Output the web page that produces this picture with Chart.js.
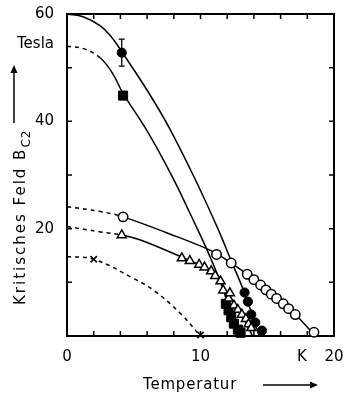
<!DOCTYPE html>
<html><head><meta charset="utf-8">
<script src="https://cdn.jsdelivr.net/npm/chart.js@4.4.1/dist/chart.umd.min.js"></script>
<style>html,body{margin:0;padding:0;background:#fff;}#wrap{width:348px;height:396px;}</style>
</head><body><div id="wrap"><canvas id="c" width="348" height="396"></canvas></div>
<script>
// ---- curves ----
const curveA_T = [0, 1.2, 2.5, 3.3, 4.1, 6.2, 7.7, 9.6, 11.3, 12.3, 13.3, 14.4];
const curveA_B = [60, 59.5, 57.8, 55.8, 53.0, 45.0, 38.6, 29.2, 20.0, 14.0, 8.0, 0];
const curveB_T = [0, 1.3, 2.5, 3.4, 4.2, 6.0, 7.9, 9.3, 10.5, 11.5, 12.2, 12.9];
const curveB_B = [54, 53.5, 51.8, 49.0, 45.2, 38.2, 29.6, 22.4, 16.0, 10.0, 5.0, 0];
const curveC_T = [0, 2.5, 4.2, 7.5, 10.7, 12.3, 13.5, 15.2, 17.1, 18.6];
const curveC_B = [24.1, 23.2, 22.2, 19.2, 16.0, 13.6, 11.5, 8.2, 4.0, 0];
const curveD_T = [0, 2.5, 4.1, 5.5, 8.7, 10.3, 11.1, 12.1, 13.1, 13.9];
const curveD_B = [20.4, 19.4, 18.8, 17.9, 14.6, 12.8, 11.4, 7.6, 3.8, 0];
const curveE_T = [0, 2.0, 5.0, 6.5, 8.5, 10.0];
const curveE_B = [14.8, 14.3, 10.7, 8.5, 4.2, 0];
// end of the dashed (extrapolated) part of each curve
const dashEndA = -1, dashEndB = 2.5, dashEndC = 4.2, dashEndD = 4.1, dashEndE = 99;

// ---- measured points ----
const filledCircleT = [4.1, 13.3, 13.55, 13.8, 14.1, 14.6];
const filledCircleB = [52.8, 8.1, 6.4, 4.0, 2.5, 1.0];
const filledCircleErr = [2.5, 0, 0, 0, 0, 0];
const filledSquareT = [4.2, 11.9, 12.1, 12.3, 12.5, 12.8, 13.0];
const filledSquareB = [44.8, 6.0, 4.8, 3.5, 2.3, 1.2, 0.6];
const openCircleT = [4.2, 11.2, 12.3, 13.5, 14.0, 14.5, 14.9, 15.3, 15.7, 16.2, 16.6, 17.1, 18.5];
const openCircleB = [22.2, 15.2, 13.6, 11.5, 10.5, 9.5, 8.6, 7.8, 7.0, 6.0, 5.1, 4.0, 0.7];
const triangleT = [4.1, 8.6, 9.2, 9.9, 10.3, 10.8, 11.1, 11.5, 11.7, 12.1, 12.2, 12.5, 12.8, 13.1, 13.4, 13.6, 13.8];
const triangleB = [18.8, 14.5, 14.0, 13.3, 12.8, 12.1, 11.2, 10.2, 8.5, 7.0, 8.0, 5.7, 4.9, 4.0, 3.2, 2.2, 1.5];
const crossT = [2.0, 10.0];
const crossB = [14.3, 0.2];

// ---- axes ----
const xTickValues = [2, 4, 6, 8, 10, 12, 14, 16, 18];
const yTickValues = [10, 20, 30, 40, 50];
const xLabelValues = [0, 10, 17.6, 20];
const xLabelTexts = ['0', '10', 'K', '20'];
const yLabelValues = [60, 54.3, 40, 20];
const yLabelTexts = ['60', 'Tesla', '40', '20'];
const xTitle = 'Temperatur';
const yTitleMain = 'Kritisches Feld B';
const yTitleSub = 'C2';

const zip = (a, b) => a.map((v, i) => ({x: v, y: b[i]}));
const FONT = '"DejaVu Sans", sans-serif';

function curve(T, B, dashEnd) {
  return {
    data: zip(T, B), showLine: true, pointRadius: 0, borderColor: '#000', borderWidth: 1.5,
    tension: 0.4, clip: false, order: 2,
    segment: { borderDash: c => (c.p1.parsed.x <= dashEnd + 1e-6 ? [4, 4] : undefined) }
  };
}
function marks(T, B, style, radius, fill, bw) {
  return {
    data: zip(T, B), showLine: false, pointStyle: style, pointRadius: radius,
    pointBackgroundColor: fill, pointBorderColor: '#000', pointBorderWidth: bw, clip: false, order: 1
  };
}

const decor = {
  id: 'decor',
  afterDatasetsDraw(chart) {
    const ctx = chart.ctx, xs = chart.scales.x, ys = chart.scales.y, a = chart.chartArea;
    ctx.save();
    ctx.strokeStyle = '#000'; ctx.fillStyle = '#000'; ctx.lineWidth = 1.5;
    const tl = 5;
    xTickValues.forEach(v => {
      const px = xs.getPixelForValue(v);
      ctx.beginPath(); ctx.moveTo(px, a.bottom); ctx.lineTo(px, a.bottom - tl);
      ctx.moveTo(px, a.top); ctx.lineTo(px, a.top + tl); ctx.stroke();
    });
    yTickValues.forEach(v => {
      const py = ys.getPixelForValue(v);
      ctx.beginPath(); ctx.moveTo(a.left, py); ctx.lineTo(a.left + tl, py);
      ctx.moveTo(a.right, py); ctx.lineTo(a.right - tl, py); ctx.stroke();
    });
    filledCircleErr.forEach((e, i) => {
      if (!e) return;
      const px = xs.getPixelForValue(filledCircleT[i]);
      const y1 = ys.getPixelForValue(filledCircleB[i] + e), y2 = ys.getPixelForValue(filledCircleB[i] - e);
      ctx.lineWidth = 1.3;
      ctx.beginPath(); ctx.moveTo(px, y1); ctx.lineTo(px, y2);
      ctx.moveTo(px - 3, y1); ctx.lineTo(px + 3, y1);
      ctx.moveTo(px - 3, y2); ctx.lineTo(px + 3, y2); ctx.stroke();
    });
    ctx.font = '15px ' + FONT;
    ctx.textAlign = 'center'; ctx.textBaseline = 'middle';
    xLabelValues.forEach((v, i) => ctx.fillText(xLabelTexts[i], xs.getPixelForValue(v), 357));
    ctx.textAlign = 'right';
    yLabelValues.forEach((v, i) => ctx.fillText(yLabelTexts[i], 54, ys.getPixelForValue(v)));
    ctx.textAlign = 'left';
    ctx.letterSpacing = '0.8px';
    ctx.fillText(xTitle, 143, 385);
    ctx.letterSpacing = '0px';
    ctx.lineWidth = 1.5;
    ctx.beginPath(); ctx.moveTo(263, 385); ctx.lineTo(312, 385); ctx.stroke();
    ctx.beginPath(); ctx.moveTo(318, 385); ctx.lineTo(310, 381.5); ctx.lineTo(310, 388.5); ctx.closePath(); ctx.fill();
    ctx.save();
    ctx.translate(25, 305); ctx.rotate(-Math.PI / 2);
    ctx.textAlign = 'left'; ctx.textBaseline = 'alphabetic';
    ctx.font = '15px ' + FONT;
    ctx.letterSpacing = '2px';
    ctx.fillText(yTitleMain, 0, 0);
    const w = ctx.measureText(yTitleMain).width;
    ctx.font = '12px ' + FONT;
    ctx.letterSpacing = '1px';
    ctx.fillText(yTitleSub, w, 5);
    ctx.restore();
    ctx.beginPath(); ctx.moveTo(14, 123); ctx.lineTo(14, 72); ctx.stroke();
    ctx.beginPath(); ctx.moveTo(14, 65); ctx.lineTo(10.5, 73); ctx.lineTo(17.5, 73); ctx.closePath(); ctx.fill();
    ctx.restore();
  }
};

const axisBase = (pos, axis, min, max, isX) => ({
  type: 'linear', position: pos, axis, min, max, display: true,
  ticks: {display: false}, grid: {display: false, drawTicks: false},
  border: {display: true, color: '#000', width: 2},
  afterFit(s) { if (isX) s.height = 0; else s.width = 0; }
});

new Chart(document.getElementById('c'), {
  type: 'scatter',
  data: {
    datasets: [
      curve(curveA_T, curveA_B, dashEndA),
      curve(curveB_T, curveB_B, dashEndB),
      curve(curveC_T, curveC_B, dashEndC),
      curve(curveD_T, curveD_B, dashEndD),
      curve(curveE_T, curveE_B, dashEndE),
      marks(openCircleT, openCircleB, 'circle', 4.7, '#fff', 1.5),
      marks(triangleT, triangleB, 'triangle', 5.2, '#fff', 1.5),
      marks(filledSquareT, filledSquareB, 'rect', 6.4, '#000', 1),
      marks(filledCircleT, filledCircleB, 'circle', 4.6, '#000', 1),
      marks(crossT, crossB, 'crossRot', 4.5, '#000', 1.6)
    ]
  },
  options: {
    responsive: false, animation: false,
    layout: {padding: {left: 67, right: 14, top: 14, bottom: 60}},
    plugins: {legend: {display: false}, tooltip: {enabled: false}},
    scales: {
      x: axisBase('bottom', 'x', 0, 20, true),
      x2: axisBase('top', 'x', 0, 20, true),
      y: axisBase('left', 'y', 0, 60, false),
      y2: axisBase('right', 'y', 0, 60, false)
    }
  },
  plugins: [decor]
});
</script></body></html>
